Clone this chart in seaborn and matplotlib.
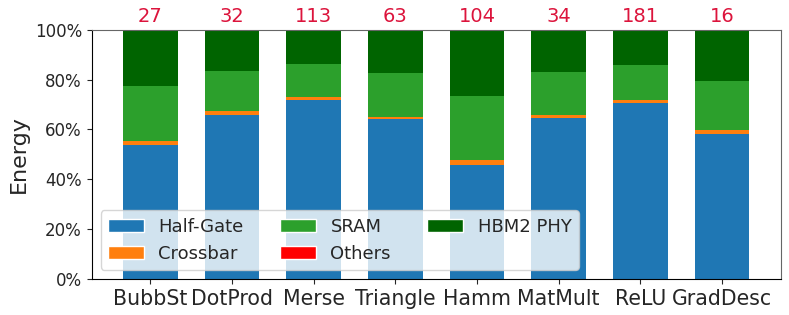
import numpy as np
import pandas as pd
import matplotlib
matplotlib.use('Agg')
import matplotlib.pyplot as plt
from matplotlib.patches import Patch
from matplotlib.ticker import PercentFormatter
import seaborn as sns

sns.set_style("white", {'axes.edgecolor': 'black'})
plt.rcParams['font.family'] = ['DejaVu Sans']
plt.rcParams['xtick.bottom'] = True
plt.rcParams['ytick.left'] = True

benchmarks = ['BubbSt', 'DotProd', 'Merse', 'Triangle', 'Hamm', 'MatMult', 'ReLU', 'GradDesc']
top_labels = [27, 32, 113, 63, 104, 34, 181, 16]

# energy share per component, in percent
half_gate = [53.8, 65.9, 71.8, 64.0, 45.8, 64.8, 70.8, 58.1]
crossbar = [1.6, 1.4, 1.2, 1.2, 2.0, 1.2, 1.1, 1.6]
sram = [22.1, 16.2, 13.3, 17.3, 25.7, 16.9, 13.8, 19.9]
others = [0.03, 0.03, 0.03, 0.03, 0.03, 0.03, 0.03, 0.03]
hbm2_phy = [22.5, 16.5, 13.7, 17.5, 26.5, 17.1, 14.3, 20.4]

components = ['Half-Gate', 'Crossbar', 'SRAM', 'Others', 'HBM2 PHY']
colors = ['#1f77b4', '#ff7f0e', '#2ca02c', '#ff0000', '#006400']

df = pd.DataFrame({'Half-Gate': half_gate, 'Crossbar': crossbar, 'SRAM': sram,
                   'Others': others, 'HBM2 PHY': hbm2_phy}, index=benchmarks)
df = df.div(df.sum(axis=1), axis=0)
cum = df.cumsum(axis=1)

fig, ax = plt.subplots(figsize=(7.89, 3.15), dpi=100)
plt.subplots_adjust(left=0.1162, right=0.9895, top=0.9057, bottom=0.1143)

# draw the tallest stack first so the lower segments sit on top
for comp, col in reversed(list(zip(components, colors))):
    sns.barplot(x=benchmarks, y=cum[comp].values, color=col, saturation=1,
                width=0.67, linewidth=0, ax=ax)

ax.set_xlim(-0.7185, 7.7185)
ax.set_ylim(0, 1)
ax.yaxis.set_major_formatter(PercentFormatter(1.0, decimals=0))
ax.set_yticks([0, 0.2, 0.4, 0.6, 0.8, 1.0])
ax.tick_params(axis='y', labelsize=12)
ax.tick_params(axis='x', labelsize=14.8)
ax.set_ylabel('Energy', fontsize=16)
ax.set_xlabel('')

for sp in ['top', 'right']:
    ax.spines[sp].set_color('#666666')

for i, n in enumerate(top_labels):
    ax.text(i, 1.013, str(n), ha='center', va='bottom', color='crimson', fontsize=14)

handles = [Patch(facecolor=c, label=l) for l, c in zip(components, colors)]
ax.legend(handles=handles, ncol=3, loc='lower left', fontsize=13)

fig.savefig('out.png', dpi=100)
